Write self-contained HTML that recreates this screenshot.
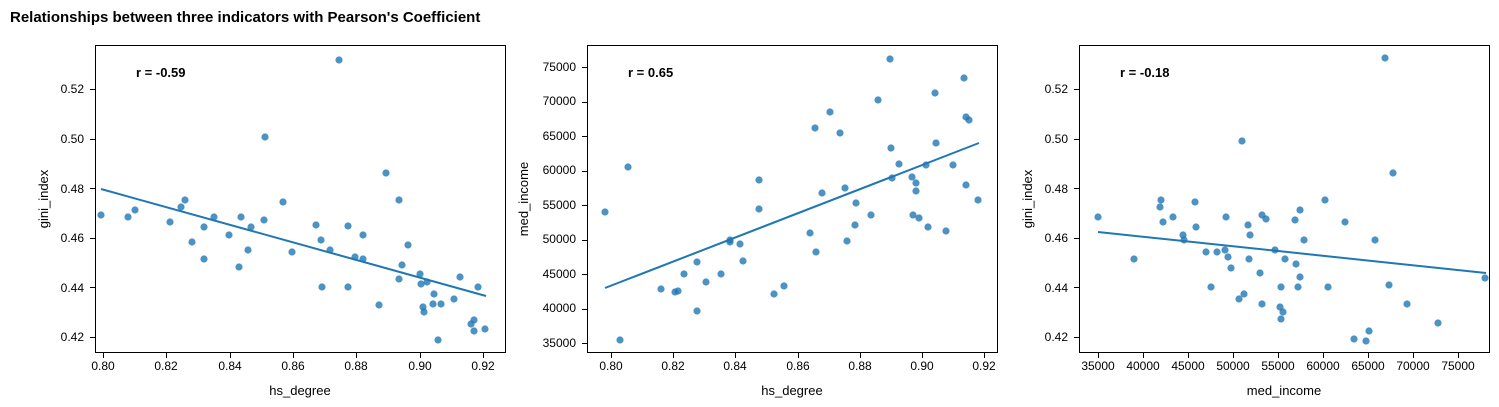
<!DOCTYPE html>
<html><head><meta charset="utf-8"><style>
html,body{margin:0;padding:0;background:#fff;}
svg{display:block;font-family:"Liberation Sans","DejaVu Sans",sans-serif;}
.t{font-size:12px;fill:#000;}
.l{font-size:13px;fill:#000;}
</style></head><body>
<svg id="s" width="1499" height="407" xmlns="http://www.w3.org/2000/svg">
<text x="10" y="22" font-size="15" font-weight="bold">Relationships between three indicators with Pearson's Coefficient</text>
<g id="pts" fill="#1f77b4" fill-opacity="0.8"></g>
<g stroke="#1f77b4" stroke-width="2">
<line x1="101" y1="189" x2="486" y2="296"/>
<line x1="605" y1="288" x2="979" y2="143"/>
<line x1="1098" y1="232" x2="1486" y2="273"/>
</g>
<g fill="none" stroke="#000" stroke-width="1">
<rect x="95.5" y="45.5" width="410" height="307"/>
<rect x="587.5" y="45.5" width="410" height="307"/>
<rect x="1079.5" y="45.5" width="410" height="307"/>
</g>
<g id="ticks" stroke="#000" stroke-width="1"></g>
<g class="t" text-anchor="middle">
<text x="103" y="370">0.80</text><text x="166" y="370">0.82</text><text x="230" y="370">0.84</text><text x="293" y="370">0.86</text><text x="356" y="370">0.88</text><text x="420" y="370">0.90</text><text x="483" y="370">0.92</text>
<text x="611" y="370">0.80</text><text x="673" y="370">0.82</text><text x="735" y="370">0.84</text><text x="798" y="370">0.86</text><text x="860" y="370">0.88</text><text x="922" y="370">0.90</text><text x="984" y="370">0.92</text>
<text x="1098" y="370">35000</text><text x="1143" y="370">40000</text><text x="1188" y="370">45000</text><text x="1233" y="370">50000</text><text x="1278" y="370">55000</text><text x="1323" y="370">60000</text><text x="1368" y="370">65000</text><text x="1413" y="370">70000</text><text x="1458" y="370">75000</text>
</g>
<g class="t" text-anchor="end">
<text x="84" y="341">0.42</text><text x="84" y="292">0.44</text><text x="84" y="242">0.46</text><text x="84" y="193">0.48</text><text x="84" y="143">0.50</text><text x="84" y="93">0.52</text>
<text x="1068" y="341">0.42</text><text x="1068" y="292">0.44</text><text x="1068" y="242">0.46</text><text x="1068" y="193">0.48</text><text x="1068" y="143">0.50</text><text x="1068" y="93">0.52</text>
<text x="576" y="347">35000</text><text x="576" y="312">40000</text><text x="576" y="278">45000</text><text x="576" y="243">50000</text><text x="576" y="209">55000</text><text x="576" y="174">60000</text><text x="576" y="140">65000</text><text x="576" y="105">70000</text><text x="576" y="71">75000</text>
</g>
<g class="l" text-anchor="middle">
<text x="300" y="395">hs_degree</text><text x="792" y="395">hs_degree</text><text x="1284" y="395">med_income</text>
<text transform="translate(48,199) rotate(-90)">gini_index</text>
<text transform="translate(528,199) rotate(-90)">med_income</text>
<text transform="translate(1032,199) rotate(-90)">gini_index</text>
</g>
<g font-size="13" font-weight="bold">
<text x="136" y="77">r = -0.59</text><text x="628" y="77">r = 0.65</text><text x="1120" y="77">r = -0.18</text>
</g>
</svg>
<script>
var P=[[101,215],[128,217],[135,210],[170,222],[181,207],[185,200],[192,242],[204,227],[204,259],[214,217],[229,235],[241,217],[239,267],[248,250],[251,227],[265,137],[264,220],[283,202],[292,252],[316,225],[321,240],[322,287],[330,250],[339,60],[348,226],[348,287],[355,257],[363,235],[363,259],[379,305],[386,173],[399,200],[399,279],[402,265],[408,245],[420,274],[421,284],[423,307],[424,312],[427,282],[433,304],[434,294],[438,340],[441,304],[454,299],[460,277],[471,324],[474,331],[474,320],[478,287],[485,329],
[605,212],[620,340],[628,167],[661,289],[675,292],[678,291],[684,274],[697,262],[697,311],[706,282],[721,274],[730,242],[730,240],[740,244],[743,261],[759,180],[759,209],[774,294],[784,286],[810,233],[815,128],[816,252],[822,193],[830,112],[840,133],[845,188],[847,241],[855,225],[856,203],[871,215],[878,100],[890,59],[891,148],[892,178],[899,164],[912,177],[913,215],[916,191],[916,183],[919,218],[926,165],[928,227],[935,93],[936,143],[946,231],[953,165],[964,78],[966,185],[966,117],[969,120],[978,200],
[1098,217],[1134,259],[1160,207],[1161,200],[1163,222],[1173,217],[1183,235],[1184,240],[1195,202],[1196,227],[1206,252],[1211,287],[1217,252],[1225,250],[1226,217],[1228,257],[1231,268],[1239,299],[1242,141],[1244,294],[1248,225],[1250,235],[1249,259],[1260,273],[1262,304],[1262,215],[1266,219],[1275,250],[1280,307],[1281,287],[1281,319],[1283,312],[1285,259],[1295,220],[1296,264],[1298,287],[1300,210],[1300,277],[1304,240],[1325,200],[1328,287],[1345,222],[1354,339],[1366,341],[1369,331],[1375,240],[1385,58],[1389,285],[1393,173],[1407,304],[1438,323],[1485,278]];
var ns="http://www.w3.org/2000/svg",g=document.getElementById("pts");
P.forEach(function(p){var c=document.createElementNS(ns,"circle");c.setAttribute("cx",p[0]);c.setAttribute("cy",p[1]);c.setAttribute("r",3.6);g.appendChild(c);});
var t=document.getElementById("ticks");
function L(a,b,c,d){var l=document.createElementNS(ns,"line");l.setAttribute("x1",a);l.setAttribute("y1",b);l.setAttribute("x2",c);l.setAttribute("y2",d);t.appendChild(l);}
[103,166,230,293,356,420,483,611,673,735,798,860,922,984,1098,1143,1188,1233,1278,1323,1368,1413,1458].forEach(function(x){x+=0.5;L(x,353,x,358);});
[337,287.4,237.8,188.2,138.6,89].forEach(function(y){y=Math.round(y)+0.5;L(90,y,95,y);L(1074,y,1079,y);});
[343,308.5,274,239.5,205,170.5,136,101.5,67].forEach(function(y){y=Math.round(y)+0.5;L(582,y,587,y);});
</script>
</body></html>
